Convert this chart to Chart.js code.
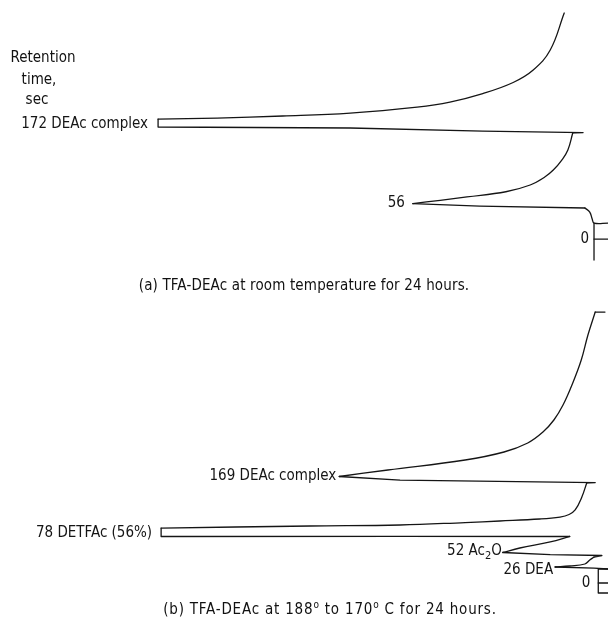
<!DOCTYPE html>
<html>
<head>
<meta charset="utf-8">
<script src="https://cdn.jsdelivr.net/npm/chart.js@4.4.1/dist/chart.umd.min.js"></script>
<style>
  html, body { margin: 0; padding: 0; background: #fff; }
  body { width: 608px; height: 628px; position: relative; overflow: hidden;
         font-family: "Liberation Sans Narrow", "DejaVu Sans Condensed", "Roboto", sans-serif; color: #111; }
  canvas { position: absolute; left: 0; }
  #ca { top: 0; }
  #cb { top: 300px; }
  .txt { position: absolute; white-space: nowrap; font-size: 15px; line-height: 1; }
  .cap { transform: translateX(-50%); }
  .hdr { transform: translateX(-50%); text-align: center; }
  sup { font-size: 10px; vertical-align: 0; position: relative; top: -6px; }
</style>
</head>
<body>
<canvas id="ca" width="608" height="300" style="width:608px;height:300px"></canvas>
<canvas id="cb" width="608" height="328" style="width:608px;height:328px"></canvas>

<div class="txt hdr" style="left:43px; top:50px;">Retention</div>
<div class="txt hdr" style="left:39px; top:72px;">time,</div>
<div class="txt hdr" style="left:37px; top:92px;">sec</div>

<div class="txt cap" style="left:304px; top:278px; letter-spacing:0.15px;">(a) TFA-DEAc at room temperature for 24 hours.</div>
<div class="txt cap" style="left:330px; top:602px; letter-spacing:0.8px;">(b) TFA-DEAc at 188<sup>o</sup> to 170<sup>o</sup> C for 24 hours.</div>

<script>
// ---------------- DATA ----------------
// Panel (a): TFA-DEAc at room temperature for 24 hours
// detector response (% of recorder full scale) vs. retention time (sec)
const timeA = [23.7, 23.7, 29.7, 40.0, 46.0, 48.9, 52.6, 57.4, 62.4, 70.1, 80.1, 91.9, 102.3, 117.1, 132.0, 157.2,
               157.9, 160.1, 164.6, 166.1, 177.9, 179.4, 182.4, 186.8, 195.7, 203.1, 215.7, 232.1, 250.6, 280.2, 335.1];
const respA = [0.0, 2.3, 2.6, 3.0, 3.8, 21.1, 32.1, 27.6, 23.2, 16.8, 12.8, 10.4, 9.0, 7.6, 6.6, 5.8,
               4.1, 20.6, 42.4, 74.0, 74.0, 64.3, 53.5, 42.4, 31.4, 26.0, 20.6, 15.6, 12.3, 9.5, 7.2];
// index ranges of the trace drawn as smooth (tailing) curves; the rest is drawn straight
const smoothA = [[0, 4], [6, 15], [20, 30]];
// injection mark (a)
const markTimeA = [23.7, -31.1];
const markRespA = [2.3, 2.3];
const tickTimeA = [0, 0];
const tickRespA = [2.3, 0.0];

// Panel (b): TFA-DEAc at 188 to 170 C for 24 hours
const timeB = [21.9, 23.4, 25.0, 26.6, 29.7, 35.9, 40.6, 43.0, 44.5, 47.7, 54.7, 64.1, 72.7, 73.0, 72.7,
               85.9, 89.1, 90.6, 94.5, 96.9, 100.0, 103.1, 107.0, 114.1, 134.4, 156.3, 157.0, 160.9, 166.4,
               176.6, 192.2, 204.7, 218.8, 235.9, 254.7, 278.1, 312.5, 348.4, 387.5, 423.4, 423.4];
const respB = [0.0, 2.3, 8.7, 6.3, 3.8, 3.0, 2.3, 1.0, 9.5, 17.3, 14.5, 9.5, 6.3, 34.2, 73.5,
               73.5, 49.0, 34.2, 23.5, 17.8, 11.2, 7.9, 6.4, 5.4, 4.3, 3.5, 2.1, 34.2, 44.2,
               36.2, 23.5, 17.1, 13.2, 10.7, 8.9, 7.4, 5.8, 4.4, 3.3, 2.1, 0.5];
const smoothB = [[2, 6], [9, 12], [15, 25], [28, 39]];
// injection mark (b)
const markTimeB = [21.9, 21.9, -15.6, -15.6];
const markRespB = [0.0, 1.6, 1.6, 0.0];
const tickTimeB = [0, 0];
const tickRespB = [1.6, 0.0];

// Peak labels: retention time (sec), response at peak tip
const peakTextA = ["172 DEAc complex", "56", "0"];
const peakTimeA = [172, 56, 0];
const peakRespA = [74.0, 32.1, 2.3];

const peakTextB = ["169 DEAc complex", "78 DETFAc (56%)", "52 Ac|2|O", "26 DEA", "0"];
const peakTimeB = [169, 78, 52, 26, 0];
const peakRespB = [44.2, 73.5, 17.3, 8.7, 1.6];

// ---------------- RENDER ----------------
const FONT = '"Liberation Sans Narrow", "DejaVu Sans Condensed", "Roboto", sans-serif';
const INK = '#151515';

function pts(ts, rs) { return ts.map((t, i) => ({ x: rs[i], y: t })); }

function lineDs(data, tension) {
  return { data, showLine: true, borderColor: INK, borderWidth: 1.3, pointRadius: 0,
           tension: tension || 0, fill: false, clip: false, borderJoinStyle: 'round', borderCapStyle: 'round' };
}

// split the trace into straight and smooth pieces that share their end points
function traceDatasets(ts, rs, smooth) {
  const all = pts(ts, rs);
  const out = [];
  let cur = 0;
  smooth.forEach(([a, b]) => {
    if (a > cur) out.push(lineDs(all.slice(cur, a + 1), 0));
    out.push(lineDs(all.slice(a, b + 1), 0.4));
    cur = b;
  });
  if (cur < all.length - 1) out.push(lineDs(all.slice(cur), 0));
  return out;
}

function labelPlugin(texts, times, resps, styles) {
  return {
    id: 'peakLabels',
    afterDatasetsDraw(chart) {
      const ctx = chart.ctx, xs = chart.scales.x, ys = chart.scales.y;
      ctx.save();
      ctx.fillStyle = INK;
      ctx.textBaseline = 'middle';
      texts.forEach((txt, i) => {
        const st = styles[i] || {};
        const right = xs.getPixelForValue(resps[i]) - (st.gap || 6);
        const y = ys.getPixelForValue(times[i]) + (st.dy || 0);
        const parts = txt.split('|');
        const widths = parts.map((p, k) => {
          ctx.font = (k % 2 === 1 ? '11px ' : '15px ') + FONT;
          return ctx.measureText(p).width;
        });
        const total = widths.reduce((a, b) => a + b, 0);
        let x = right - total;
        ctx.textAlign = 'left';
        parts.forEach((p, k) => {
          const sub = k % 2 === 1;
          ctx.font = (sub ? '11px ' : '15px ') + FONT;
          ctx.fillText(p, x, y + (sub ? 5 : 0));
          x += widths[k];
        });
      });
      ctx.restore();
    }
  };
}

function makeChart(id, datasets, yMin, yMax, plugin) {
  return new Chart(document.getElementById(id), {
    type: 'scatter',
    data: { datasets },
    options: {
      responsive: false, animation: false, devicePixelRatio: 1,
      layout: { padding: 0 },
      plugins: { legend: { display: false }, tooltip: { enabled: false } },
      scales: {
        x: { type: 'linear', min: 0, max: 100, reverse: true, display: false },
        y: { type: 'linear', min: yMin, max: yMax, display: false }
      },
      events: []
    },
    plugins: [plugin]
  });
}

makeChart('ca', [
  ...traceDatasets(timeA, respA, smoothA),
  lineDs(pts(markTimeA, markRespA)),
  lineDs(pts(tickTimeA, tickRespA))
], -90.4, 354.4, labelPlugin(peakTextA, peakTimeA, peakRespA, [
  { gap: 10, dy: 1 }, { gap: 8, dy: 2 }, { gap: 5, dy: 0 }
]));

makeChart('cb', [
  ...traceDatasets(timeB, respB, smoothB),
  lineDs(pts(markTimeB, markRespB)),
  lineDs(pts(tickTimeB, tickRespB))
], -70.3, 442.2, labelPlugin(peakTextB, peakTimeB, peakRespB, [
  { gap: 3, dy: 1 }, { gap: 9, dy: 0 }, { gap: 1, dy: 1 }, { gap: 2, dy: 4 }, { gap: 8, dy: 0 }
]));
</script>
</body>
</html>
